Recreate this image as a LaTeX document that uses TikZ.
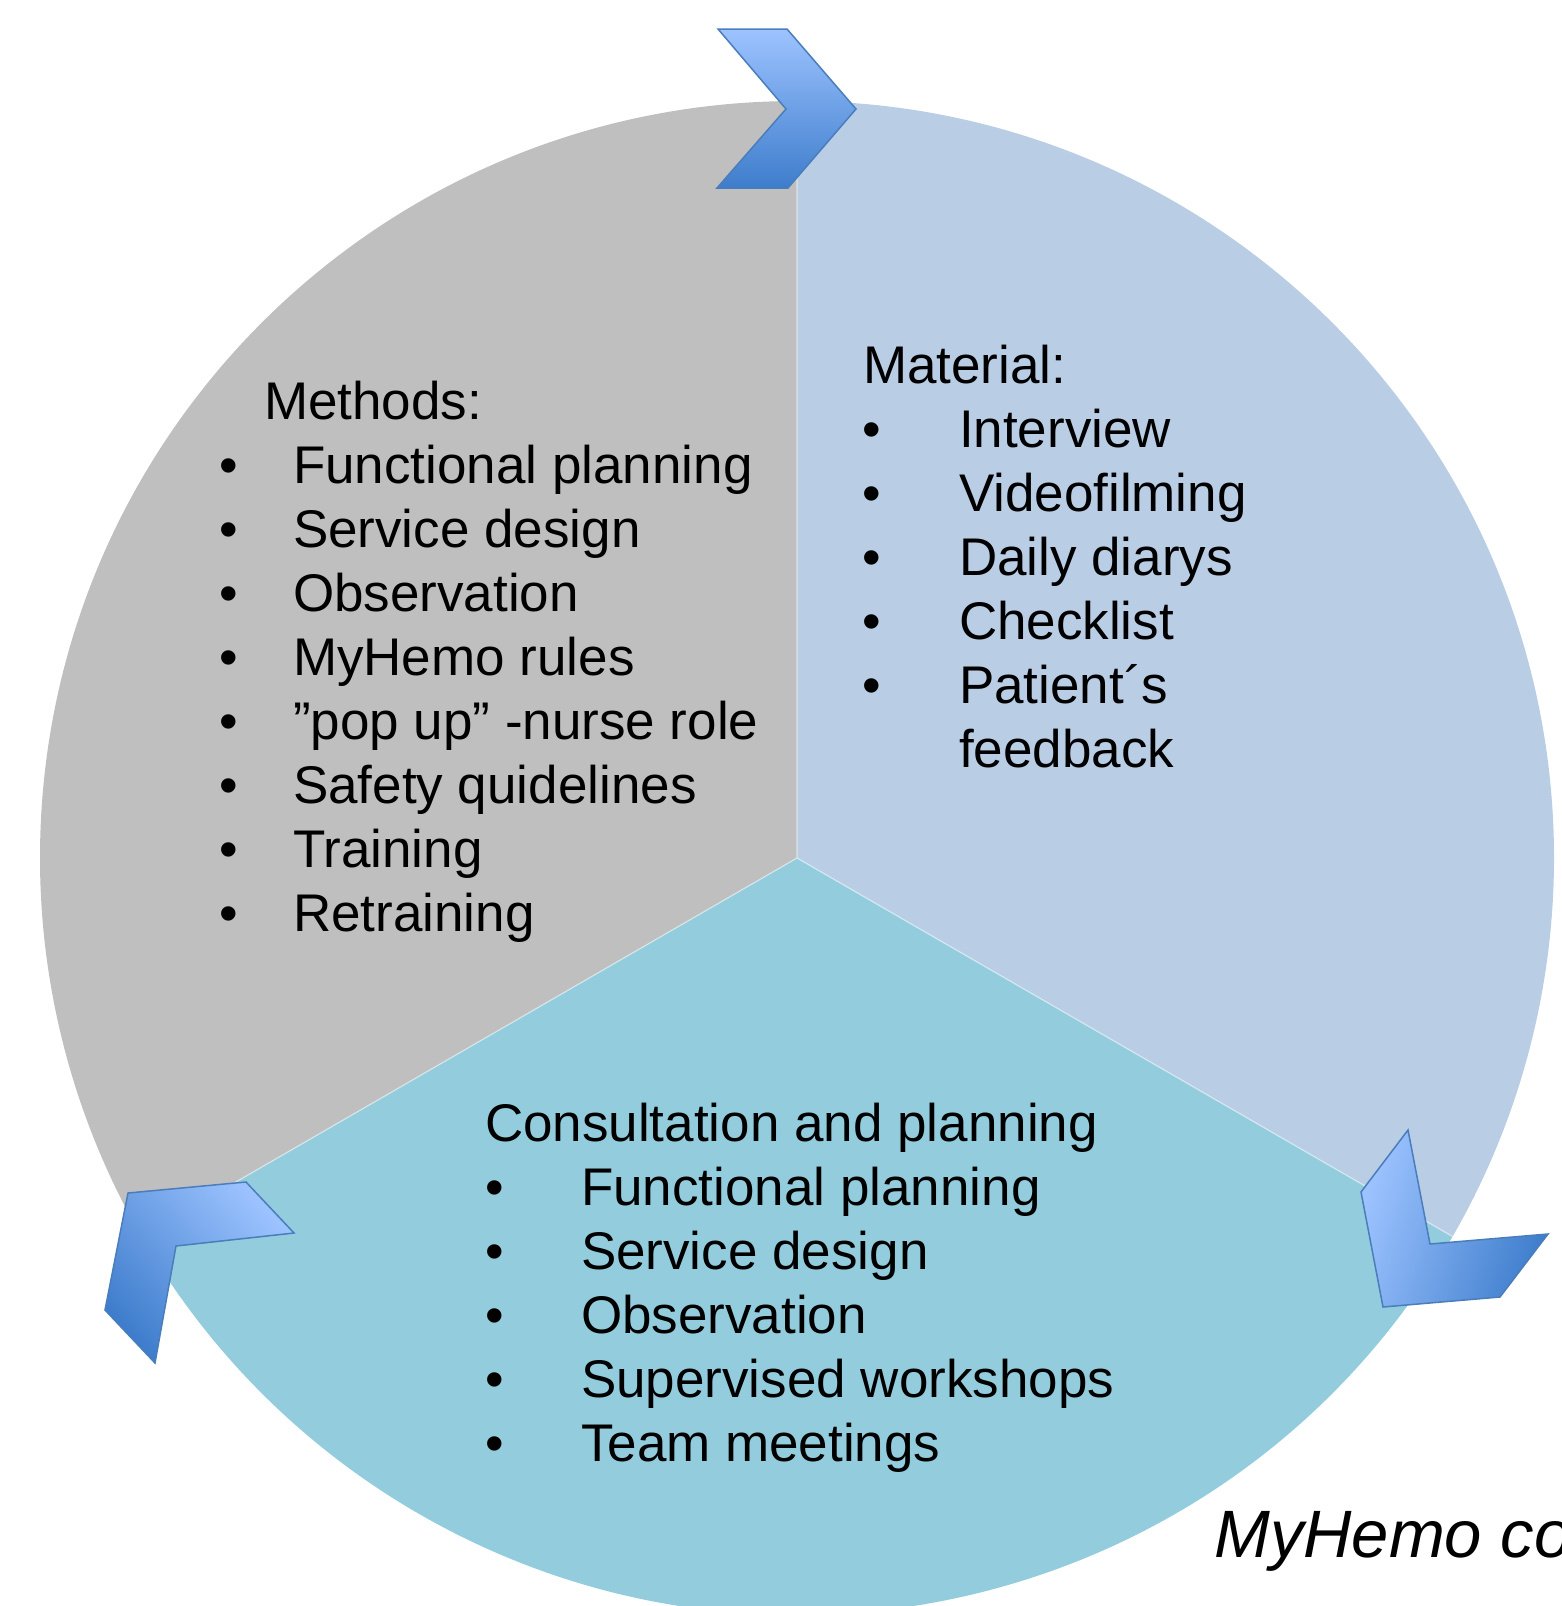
\documentclass[tikz,border=0pt]{standalone}
\usepackage{fontspec}
\setmainfont{Liberation Sans}
\definecolor{secgray}{HTML}{BFBFBF}
\definecolor{secblue}{HTML}{B9CDE5}
\definecolor{secteal}{HTML}{93CDDD}
\definecolor{chevlight}{HTML}{9DC3FF}
\definecolor{chevdark}{HTML}{3E7DCC}
\definecolor{chevline}{HTML}{4A7EBB}
\begin{document}
\begin{tikzpicture}[x=1pt,y=-1pt,
  txt/.style={anchor=base west,inner sep=0pt,outer sep=0pt,font=\fontsize{53}{64}\selectfont},
  bul/.style={anchor=base,inner sep=0pt,outer sep=0pt,font=\fontsize{53}{64}\selectfont},
  chev/.style={draw=chevline,line width=1.5pt,line join=miter}]
\useasboundingbox (0,0) rectangle (1561,1606);
\clip (0,0) rectangle (1561,1606);
\coordinate (c) at (797,858);
% sectors
\fill[secgray] (c) -- ++(-90:757) arc (-90:-210:757) -- cycle;
\fill[secblue] (c) -- ++(-90:757) arc (-90:30:757) -- cycle;
\fill[secteal] (c) -- ++(30:757) arc (30:150:757) -- cycle;
\draw[white,line width=1.2pt,opacity=0.5] (c) -- ++(-90:757) (c) -- ++(30:757) (c) -- ++(150:757);
% chevrons
\shade[chev,top color=chevlight,bottom color=chevdark]
  (718,29) -- (787,29) -- (856,109) -- (788,188) -- (717,188) -- (786,109) -- cycle;
\shade[chev,top color=chevlight,bottom color=chevdark,shading angle=73]
  (1408,1130) -- (1430,1244) -- (1548,1234) -- (1500,1297) -- (1383,1307) -- (1361,1192) -- cycle;
\shade[chev,top color=chevlight,bottom color=chevdark,shading angle=-48]
  (246,1182) -- (294,1233) -- (176,1246) -- (155,1363) -- (105,1310) -- (128,1193) -- cycle;
% Methods
\node[txt] (mhead) at (264,419) {Methods:};
\foreach \t [count=\i] in {Functional planning,Service design,Observation,MyHemo rules,”pop up” -nurse role,Safety quidelines,Training,Retraining}{
  \node[bul] (mb\i) at (229,419+64*\i) {•};
  \node[txt] (m\i) at (293,419+64*\i) {\t};
}
% Material
\node[txt] (mathead) at (863,383) {Material:};
\foreach \t [count=\i] in {Interview,Videofilming,Daily diarys,Checklist,Patient´s}{
  \node[bul] (ab\i) at (872,383+64*\i) {•};
  \node[txt] (a\i) at (959,383+64*\i) {\t};
}
\node[txt] (a6) at (959,767) {feedback};
% Consultation
\node[txt] (chead) at (485,1141) {Consultation and planning};
\foreach \t [count=\i] in {Functional planning,Service design,Observation,Supervised workshops,Team meetings}{
  \node[bul] (cb\i) at (495,1141+64*\i) {•};
  \node[txt] (c\i) at (581,1141+64*\i) {\t};
}
\node[anchor=base west,inner sep=0pt,font=\fontsize{67}{80}\selectfont\itshape] (title) at (1214,1557) {MyHemo co};
\end{tikzpicture}
\end{document}
